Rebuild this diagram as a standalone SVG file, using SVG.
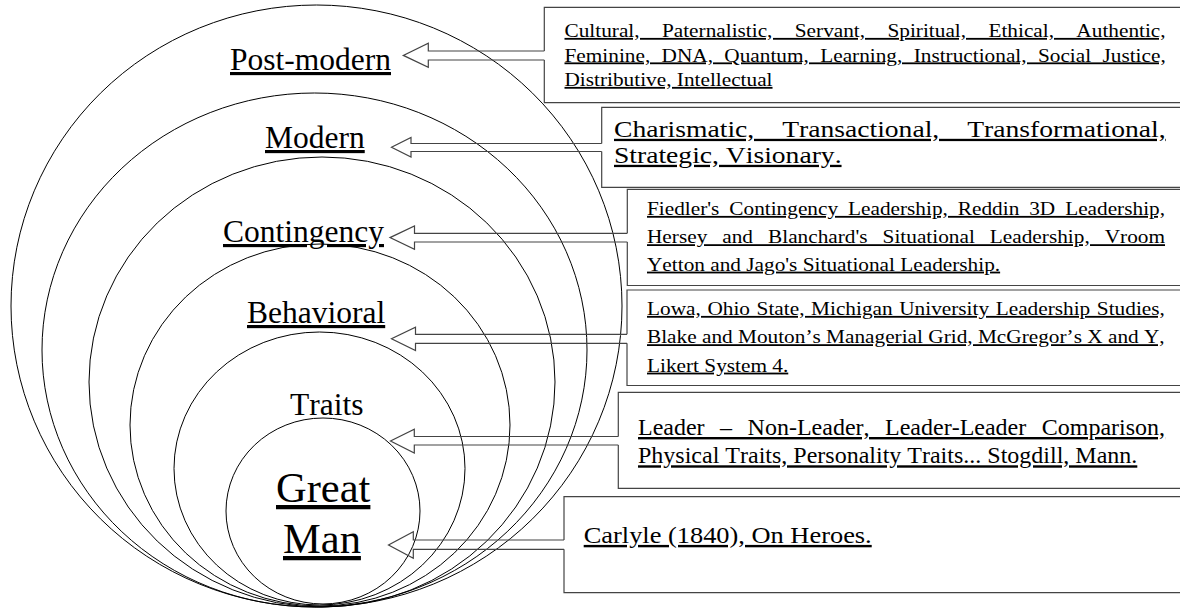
<svg xmlns="http://www.w3.org/2000/svg" width="1180" height="611" viewBox="0 0 1180 611">
<style>
.ring{fill:none;stroke:#000;stroke-width:1}
.box{fill:none;stroke:#444;stroke-width:1.2}
.arr{fill:none;stroke:#444;stroke-width:1.2;stroke-linejoin:miter}
text{font-family:"Liberation Serif","Times New Roman",serif;fill:#000;font-kerning:none}
.lbl{font-size:31.5px;text-decoration:underline}
.plain{font-size:31.5px}
.big{font-size:42.5px;text-decoration:underline}
.t1{font-size:18px;text-decoration:underline}
.t2{font-size:23px;text-decoration:underline}
.t3{font-size:24px;text-decoration:underline}
</style>
<rect width="1180" height="611" fill="#fff"/>
<g id="level-postmodern">
<ellipse class="ring" cx="316.5" cy="306" rx="305.5" ry="301"/>
<text class="lbl" x="230" y="70">Post-modern</text>
</g>
<g id="level-modern">
<ellipse class="ring" cx="314.5" cy="350" rx="272.5" ry="257"/>
<text class="lbl" x="265" y="148">Modern</text>
</g>
<g id="level-contingency">
<ellipse class="ring" cx="322" cy="382" rx="233" ry="225"/>
<text class="lbl" x="223" y="242">Contingency</text>
</g>
<g id="level-behavioral">
<ellipse class="ring" cx="320" cy="425" rx="190" ry="181"/>
<text class="lbl" x="247" y="323">Behavioral</text>
</g>
<g id="level-traits">
<ellipse class="ring" cx="319.5" cy="468.5" rx="145.5" ry="136.5"/>
<text class="plain" x="290" y="415">Traits</text>
</g>
<g id="level-greatman">
<ellipse class="ring" cx="323" cy="511" rx="97" ry="93"/>
<text class="big" x="276" y="502">Great</text>
<text class="big" x="283" y="553">Man</text>
</g>
<g id="box-postmodern">
<path class="box" d="M544.3,51 V7.3 H1192 V102.7 H544.3 V60"/>
<text class="t1" transform="translate(564.5,37) scale(1.183,1)" word-spacing="14.4">Cultural, Paternalistic, Servant, Spiritual, Ethical, Authentic,</text>
<text class="t1" transform="translate(564.5,61.5) scale(1.183,1)" word-spacing="5.1">Feminine, DNA, Quantum, Learning, Instructional, Social Justice,</text>
<text class="t1" transform="translate(564.5,86) scale(1.183,1)">Distributive, Intellectual</text>
</g>
<g id="box-modern">
<path class="box" d="M601.7,143.5 V107.3 H1192 V187.3 H601.7 V151.5"/>
<text class="t2" transform="translate(614,137) scale(1.2,1)" word-spacing="17.6">Charismatic, Transactional, Transformational,</text>
<text class="t2" transform="translate(614,163) scale(1.2,1)">Strategic, Visionary.</text>
</g>
<g id="box-contingency">
<path class="box" d="M627.3,233.3 V189.3 H1192 V285.5 H627.3 V242"/>
<text class="t1" transform="translate(647,215) scale(1.183,1)" word-spacing="3.9">Fiedler's Contingency Leadership, Reddin 3D Leadership,</text>
<text class="t1" transform="translate(647,243.3) scale(1.183,1)" word-spacing="8.2">Hersey and Blanchard's Situational Leadership, Vroom</text>
<text class="t1" transform="translate(647,270.7) scale(1.183,1)">Yetton and Jago's Situational Leadership.</text>
</g>
<g id="box-behavioral">
<path class="box" d="M627,334.3 V290 H1192 V385.5 H627 V343.3"/>
<text class="t1" transform="translate(647,315) scale(1.183,1)" word-spacing="1.1">Lowa, Ohio State, Michigan University Leadership Studies,</text>
<text class="t1" transform="translate(647,343.3) scale(1.183,1)">Blake and Mouton’s Managerial Grid, McGregor’s X and Y,</text>
<text class="t1" transform="translate(647,371.7) scale(1.183,1)">Likert System 4.</text>
</g>
<g id="box-traits">
<path class="box" d="M618.3,436.5 V392.3 H1192 V488.3 H618.3 V445"/>
<text class="t3" x="638" y="435" word-spacing="9.5">Leader – Non-Leader, Leader-Leader Comparison,</text>
<text class="t3" x="638" y="463.3">Physical Traits, Personality Traits... Stogdill, Mann.</text>
</g>
<g id="box-greatman">
<path class="box" d="M564,540 V496.7 H1192 V592.7 H564 V549.3"/>
<text class="t3" transform="translate(583.7,543) scale(1.1,1)">Carlyle (1840), On Heroes.</text>
</g>
<g id="connectors">
<path class="arr" d="M544.3,51 H428.3 V43.3 L403.3,55.4 L428.3,67.3 V60 H544.3"/>
<path class="arr" d="M601.7,143.5 H411 V137.5 L391.5,147.3 L411,157 V151.5 H601.7"/>
<path class="arr" d="M627.3,233.3 H414.5 V226 L390,237.6 L414.5,249.3 V242 H627.3"/>
<path class="arr" d="M627,334.3 H415.5 V327.3 L391.5,338.8 L415.5,350.5 V343.3 H627"/>
<path class="arr" d="M618.3,436.5 H414.3 V429.3 L390.5,441 L414.3,453 V445 H618.3"/>
<path class="arr" d="M564,540 H413.3 V531.7 L388.5,545 L413.3,558.3 V549.3 H564"/>
</g>
</svg>
